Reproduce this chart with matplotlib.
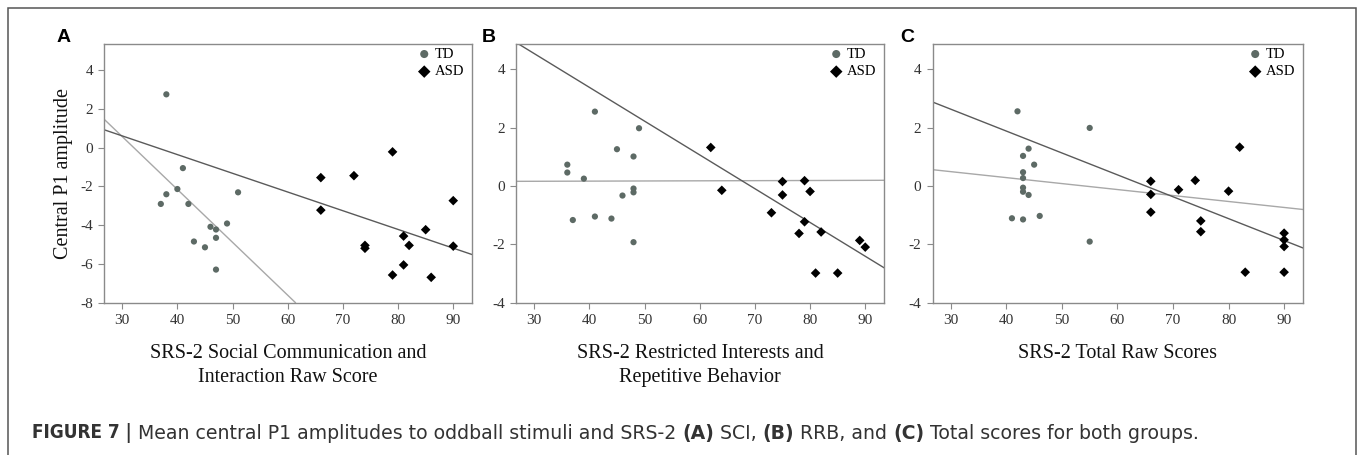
import numpy as np
import matplotlib
matplotlib.use("Agg")
import matplotlib.pyplot as plt
from matplotlib.patches import Rectangle

# values
a_td_x = [38, 41, 40, 38, 37, 42, 51, 49, 46, 47, 47, 43, 45, 47]
a_td_y = [2.75, -1.06, -2.14, -2.41, -2.91, -2.91, -2.31, -3.92, -4.09, -4.23, -4.66, -4.85, -5.15, -6.30]
a_asd_x = [79, 66, 72, 66, 74, 74, 81, 82, 85, 81, 79, 86, 90, 90]
a_asd_y = [-0.22, -1.55, -1.45, -3.23, -5.05, -5.20, -4.57, -5.05, -4.24, -6.06, -6.58, -6.70, -2.74, -5.09]

b_td_x = [41, 49, 45, 48, 36, 36, 39, 48, 48, 46, 41, 44, 37, 48]
b_td_y = [2.55, 1.98, 1.26, 1.01, 0.73, 0.46, 0.25, -0.09, -0.22, -0.33, -1.05, -1.12, -1.17, -1.93]
b_asd_x = [62, 64, 75, 79, 75, 80, 73, 79, 78, 82, 89, 90, 81, 85]
b_asd_y = [1.32, -0.15, 0.15, 0.18, -0.31, -0.19, -0.92, -1.23, -1.63, -1.58, -1.87, -2.10, -2.99, -2.99]

c_td_x = [42, 55, 44, 43, 45, 43, 43, 43, 43, 44, 46, 41, 43, 55]
c_td_y = [2.56, 1.99, 1.28, 1.03, 0.73, 0.47, 0.27, -0.06, -0.20, -0.31, -1.03, -1.11, -1.15, -1.91]
c_asd_x = [82, 66, 74, 66, 71, 80, 66, 75, 75, 90, 90, 90, 83, 90]
c_asd_y = [1.33, 0.16, 0.19, -0.29, -0.13, -0.18, -0.90, -1.20, -1.57, -1.62, -1.85, -2.08, -2.96, -2.96]

x_ticks = [30, 40, 50, 60, 70, 80, 90]
a_y_ticks = [-8, -6, -4, -2, 0, 2, 4]
bc_y_ticks = [-4, -2, 0, 2, 4]

x_labels = ["SRS-2 Social Communication and\nInteraction Raw Score",
            "SRS-2 Restricted Interests and\nRepetitive Behavior",
            "SRS-2 Total Raw Scores"]
panel_letters = ["A", "B", "C"]

caption = [("FIGURE 7 |", "bold"),
           (" Mean central P1 amplitudes to oddball stimuli and SRS-2 ", "normal"),
           ("(A)", "bold"), (" SCI, ", "normal"), ("(B)", "bold"), (" RRB, and ", "normal"),
           ("(C)", "bold"), (" Total scores for both groups.", "normal")]

TD_COLOR = "#5d6a65"
TD_LINE = "#a8a8a8"
ASD_LINE = "#5a5a5a"
SPINE = "#8a8a8a"
SERIF = "Liberation Serif"

W, H = 1358, 455
fig = plt.figure(figsize=(W / 100, H / 100), dpi=100)

# outer frame of the figure box (bottom edge falls outside the image)
fig.patches.append(Rectangle((8 / W, -0.1), (1355.5 - 8) / W, 1.1 - 8 / H,
                             transform=fig.transFigure, fill=False,
                             edgecolor="#555555", linewidth=1.1))

panels = [
    (104, 472, 57, a_td_x, a_td_y, a_asd_x, a_asd_y, a_y_ticks, (-8, 5.35)),
    (516, 884, 482, b_td_x, b_td_y, b_asd_x, b_asd_y, bc_y_ticks, (-4, 4.87)),
    (932.5, 1303, 900, c_td_x, c_td_y, c_asd_x, c_asd_y, bc_y_ticks, (-4, 4.87)),
]
top_px, bot_px = 44, 302.5

for i, (l, r, lx, tdx, tdy, asx, asy, yt, ylim) in enumerate(panels):
    ax = fig.add_axes([l / W, 1 - bot_px / H, (r - l) / W, (bot_px - top_px) / H])
    ax.set_xlim(26.7, 93.4)
    ax.set_ylim(*ylim)

    # group regression lines
    k_td, b_td = np.polyfit(tdx, tdy, 1)
    k_as, b_as = np.polyfit(asx, asy, 1)
    ax.axline((0, b_td), slope=k_td, color=TD_LINE, lw=1.0, zorder=2)
    ax.axline((0, b_as), slope=k_as, color=ASD_LINE, lw=1.0, zorder=2)

    ax.scatter(tdx, tdy, s=20, marker="o", color=TD_COLOR, edgecolors="none",
               label="TD", zorder=3)
    ax.scatter(asx, asy, s=24, marker="D", color="black", edgecolors="none",
               label="ASD", zorder=3)

    ax.set_xticks(x_ticks)
    ax.set_yticks(yt)
    ax.set_xticklabels([str(t) for t in x_ticks], fontfamily=SERIF, fontsize=11, color="#333333")
    ax.set_yticklabels([str(t) for t in yt], fontfamily=SERIF, fontsize=11, color="#333333")
    ax.tick_params(length=4, width=0.8, color=SPINE, pad=4)
    for sp in ax.spines.values():
        sp.set_color(SPINE)
        sp.set_linewidth(1.0)

    ax.set_xlabel(x_labels[i], fontfamily=SERIF, fontsize=14.5, color="#111111",
                  linespacing=1.4)
    ax.xaxis.set_label_coords(0.5, -0.16)

    if i == 0:
        ax.set_ylabel("Central P1 amplitude", fontfamily=SERIF, fontsize=14.5,
                      color="#111111")
        ax.yaxis.set_label_coords(-0.085, 0.5)

    ax.legend(loc="upper right", bbox_to_anchor=(0.99, 1.0), frameon=False,
              borderaxespad=0.0, borderpad=0.25, handletextpad=0.15,
              labelspacing=0.3, handlelength=1.2, markerscale=1.3,
              prop={"family": SERIF, "size": 10.5})

    fig.text(lx / W, 1 - 37 / H, panel_letters[i], fontfamily="Liberation Sans",
             fontweight="bold", fontsize=14, va="center", ha="left")

# caption: bold and regular runs chained one after another
prev = None
for txt, wt in caption:
    kw = dict(fontfamily="DejaVu Sans", fontweight=wt, fontsize=13.6, color="#333333",
              va="bottom", ha="left")
    if prev is None:
        kw["fontstretch"] = "condensed"
        prev = fig.text(32 / W, 1 - 443 / H, txt, **kw)
    else:
        prev = ax.annotate(txt, xy=(1, 0), xycoords=prev, annotation_clip=False, **kw)

fig.savefig("out.png", dpi=100)
